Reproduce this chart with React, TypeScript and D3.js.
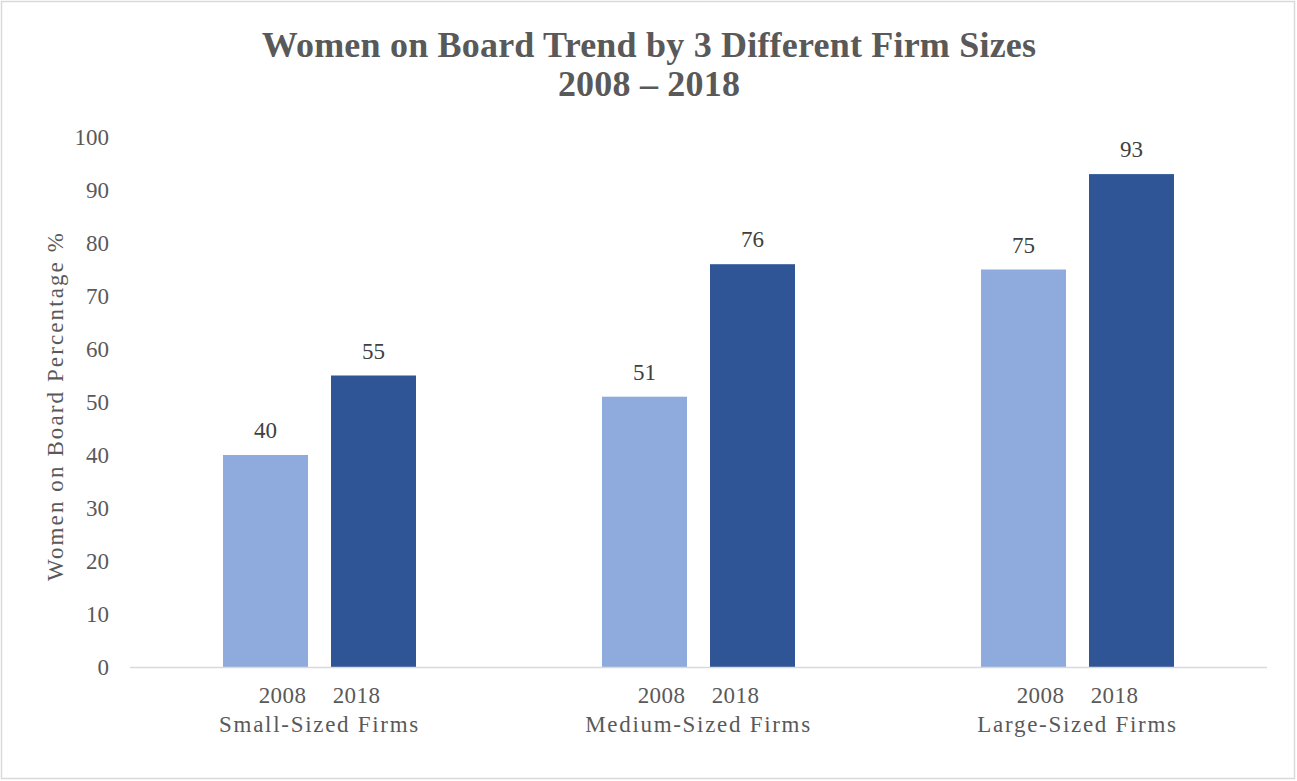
import React from "react";
import * as d3 from "d3";

const categories = ["Small-Sized Firms", "Medium-Sized Firms", "Large-Sized Firms"];
const years = ["2008", "2018"];
const values2008 = [40, 51, 75];
const values2018 = [55, 76, 93];
const yTicks = [0, 10, 20, 30, 40, 50, 60, 70, 80, 90, 100];
const titleLines = ["Women on Board Trend by 3 Different Firm Sizes", "2008 \u2013 2018"];
const yAxisTitle = "Women on Board Percentage %";

const W = 1297;
const H = 781;
const FONT = "'Liberation Serif', 'Times New Roman', serif";
const COLORS: Record<string, string> = { "2008": "#8FAADC", "2018": "#2F5597" };

export default function App() {
  const left = 130;
  const right = 1267;
  const top = 137;
  const bottom = 667;

  const x0 = d3.scaleBand<string>().domain(categories).range([left, right]).padding(0);
  const x1 = d3.scaleBand<string>().domain(years).range([93, 286]).paddingInner(0.213).paddingOuter(0);
  const y = d3.scaleLinear().domain([0, 100]).range([bottom, top]);

  const series: Record<string, number[]> = { "2008": values2008, "2018": values2018 };

  return (
    <svg width={W} height={H} style={{ position: "absolute", left: 0, top: 0, background: "#fff" }} fontFamily={FONT}>
      <rect x={1.5} y={1.5} width={W - 4} height={H - 4} fill="#fff" stroke="#D9D9D9" strokeWidth={1.5} />
      {titleLines.map((t, i) => (
        <text key={t} x={649} y={57 + i * 39} textAnchor="middle" fontSize={36} fontWeight="bold" fill="#595959" letterSpacing={0.2}>
          {t}
        </text>
      ))}
      {yTicks.map((t) => (
        <text key={t} x={109} y={y(t)} dy="0.35em" textAnchor="end" fontSize={23} fill="#595959">
          {t}
        </text>
      ))}
      <text transform={`translate(63,${(top + bottom) / 2 + 4}) rotate(-90)`} textAnchor="middle" fontSize={23} fill="#595959" letterSpacing={2.1}>
        {yAxisTitle}
      </text>
      {categories.map((c, ci) => (
        <g key={c} transform={`translate(${x0(c)},0)`}>
          {years.map((yr) => {
            const v = series[yr][ci];
            const bx = x1(yr)!;
            return (
              <g key={yr}>
                <rect x={bx} y={y(v)} width={x1.bandwidth()} height={y(0) - y(v)} fill={COLORS[yr]} />
                <text x={bx + x1.bandwidth() / 2} y={y(v) - 17} textAnchor="middle" fontSize={23} fill="#404040">
                  {v}
                </text>
              </g>
            );
          })}
          {years.map((yr, i) => (
            <text key={yr} x={x0.bandwidth() / 2 + (i === 0 ? -37 : 37)} y={703} textAnchor="middle" fontSize={23} fill="#595959" letterSpacing={0.4}>
              {yr}
            </text>
          ))}
          <text x={x0.bandwidth() / 2} y={732} textAnchor="middle" fontSize={23} fill="#595959" letterSpacing={1.7}>
            {c}
          </text>
        </g>
      ))}
      <line x1={left} x2={right} y1={bottom + 0.5} y2={bottom + 0.5} stroke="#D9D9D9" strokeWidth={1.5} />
    </svg>
  );
}
